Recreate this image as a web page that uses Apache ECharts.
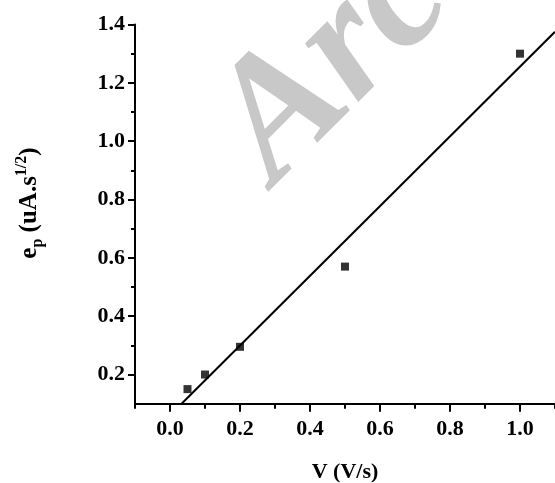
<!DOCTYPE html>
<html>
<head>
<meta charset="utf-8">
<script src="https://cdn.jsdelivr.net/npm/echarts@6/dist/echarts.min.js"></script>
<style>
  html, body { margin: 0; padding: 0; background: #fff; }
  #chart { width: 555px; height: 483px; }
</style>
</head>
<body>
<div id="chart"></div>
<script>
// Peak current vs. scan rate
const scanRate = [0.05, 0.1, 0.2, 0.5, 1.0];          // V (V/s)
const peakValue = [0.15, 0.20, 0.295, 0.57, 1.30];    // e_p (uA.s^1/2)

// Linear fit, drawn between its two end points
const fitX = [0.033, 1.1];
const fitY = [0.1, 1.375];

// Axis ticks
const xMajorTicks = [0.0, 0.2, 0.4, 0.6, 0.8, 1.0];
const xMinorTicks = [-0.1, 0.1, 0.3, 0.5, 0.7, 0.9, 1.1];
const yMajorTicks = [0.2, 0.4, 0.6, 0.8, 1.0, 1.2, 1.4];
const yMinorTicks = [0.3, 0.5, 0.7, 0.9, 1.1, 1.3];

const FONT = 'Liberation Serif';
const labelStyle = { fontFamily: FONT, fontWeight: 'bold', fontSize: 22, color: '#000' };
const mkLine = () => ({ color: '#000', width: 2 });

const chart = echarts.init(document.getElementById('chart'), null, { renderer: 'canvas' });

chart.setOption({
  animation: false,
  backgroundColor: '#fff',
  grid: { left: 135, right: 0, top: 24.5, bottom: 79.3, containLabel: false },
  xAxis: [
    {
      type: 'value', min: -0.1, max: 1.1, position: 'bottom',
      axisLine: { show: true, onZero: false, lineStyle: mkLine() },
      axisTick: { show: true, length: 8, lineStyle: mkLine(), customValues: xMajorTicks },
      axisLabel: { ...labelStyle, margin: 15, customValues: xMajorTicks,
        formatter: v => v.toFixed(1) },
      splitLine: { show: false }
    },
    {
      type: 'value', min: -0.1, max: 1.1, position: 'bottom',
      axisLine: { show: false, onZero: false },
      axisTick: { show: true, length: 5, lineStyle: mkLine(), customValues: xMinorTicks },
      axisLabel: { show: false },
      splitLine: { show: false }
    }
  ],
  yAxis: [
    {
      type: 'value', min: 0.1, max: 1.4, position: 'left',
      axisLine: { show: true, onZero: false, lineStyle: mkLine() },
      axisTick: { show: true, length: 7, lineStyle: mkLine(), customValues: yMajorTicks },
      axisLabel: { ...labelStyle, margin: 10, customValues: yMajorTicks,
        formatter: v => v.toFixed(1) },
      splitLine: { show: false }
    },
    {
      type: 'value', min: 0.1, max: 1.4, position: 'left',
      axisLine: { show: false, onZero: false },
      axisTick: { show: true, length: 4, lineStyle: mkLine(), customValues: yMinorTicks },
      axisLabel: { show: false },
      splitLine: { show: false }
    }
  ],
  graphic: [
    {
      type: 'text', z: -10, silent: true,
      x: 304, y: 215, rotation: Math.PI / 4,
      style: {
        text: 'Arc', fill: '#c8c8c8',
        font: 'italic bold 172px "Liberation Serif"',
        textAlign: 'left', textVerticalAlign: 'bottom'
      }
    },
    {
      type: 'text', z: 10,
      x: 345, y: 472,
      style: {
        text: 'V (V/s)', fill: '#000',
        font: 'bold 22px "Liberation Serif"',
        textAlign: 'center', textVerticalAlign: 'middle'
      }
    },
    {
      type: 'text', z: 10,
      x: 30, y: 203, rotation: Math.PI / 2,
      style: {
        text: '{b|e}{sub|p}{b| (uA.s}{sup|1/2}{b|)}',
        textAlign: 'center', textVerticalAlign: 'middle',
        rich: {
          b: { fontFamily: FONT, fontWeight: 'bold', fontSize: 25, lineHeight: 32, verticalAlign: 'middle', fill: '#000' },
          sub: { fontFamily: FONT, fontWeight: 'bold', fontSize: 16, lineHeight: 16, verticalAlign: 'bottom', fill: '#000' },
          sup: { fontFamily: FONT, fontWeight: 'bold', fontSize: 16, lineHeight: 16, verticalAlign: 'top', fill: '#000' }
        }
      }
    }
  ],
  series: [
    {
      type: 'line', xAxisIndex: 0, yAxisIndex: 0,
      data: fitX.map((x, i) => [x, fitY[i]]),
      showSymbol: false, symbol: 'none',
      lineStyle: { color: '#000', width: 2 },
      clip: true, z: 2
    },
    {
      type: 'scatter', xAxisIndex: 0, yAxisIndex: 0,
      data: scanRate.map((x, i) => [x, peakValue[i]]),
      symbol: 'rect', symbolSize: 8,
      itemStyle: { color: '#000' },
      z: 3
    }
  ]
});
</script>
</body>
</html>
